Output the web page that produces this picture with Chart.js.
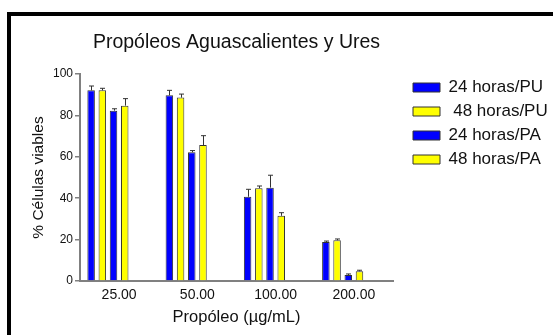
<!DOCTYPE html>
<html>
<head>
<meta charset="utf-8">
<script src="https://cdn.jsdelivr.net/npm/chart.js@4.4.0/dist/chart.umd.min.js"></script>
<style>
  html, body { margin: 0; padding: 0; background: #fff; overflow: hidden; }
  #wrap { position: relative; width: 553px; height: 335px; }
  #marco { position: absolute; left: 7px; top: 12px; width: 600px; height: 400px;
           border-left: 4px solid #000; border-top: 4px solid #000; pointer-events: none; }
</style>
</head>
<body>
<div id="wrap">
  <canvas id="grafico" width="553" height="335"></canvas>
  <div id="marco"></div>
</div>
<script>
// concentraciones de propóleo
const dosis = ['25.00', '50.00', '100.00', '200.00'];

// % células viables (media) y error (solo hacia arriba)
const pu24 = [92.1, 89.7, 40.7, 18.8];
const pu24Err = [2.1, 2.4, 3.6, 0.5];
const pu48 = [92.1, 88.6, 44.8, 19.7];
const pu48Err = [1.0, 1.7, 1.1, 0.6];
const pa24 = [82.3, 62.2, 45.1, 2.9];
const pa24Err = [0.9, 0.8, 6.0, 0.5];
const pa48 = [84.7, 65.7, 31.5, 4.7];
const pa48Err = [3.4, 4.5, 1.5, 0.5];

const yTicks = [0, 20, 40, 60, 80, 100];

const azul = '#0000ff';
const amarillo = '#ffff00';
const borde = '#333333';
const gris = '#808080';
const fuente = "'Liberation Sans', Arial, sans-serif";

// error bars drawn through the y scale
const barrasError = {
  id: 'barrasError',
  afterDatasetsDraw(chart) {
    const ctx = chart.ctx;
    const yScale = chart.scales.y;
    ctx.save();
    ctx.strokeStyle = borde;
    ctx.lineWidth = 1;
    chart.data.datasets.forEach((ds, i) => {
      if (!ds.errores) return;
      const meta = chart.getDatasetMeta(i);
      meta.data.forEach((bar, j) => {
        const top = yScale.getPixelForValue(ds.data[j] + ds.errores[j]);
        const x = Math.round(bar.x) + 0.5;
        ctx.beginPath();
        ctx.moveTo(x, bar.y);
        ctx.lineTo(x, top);
        ctx.moveTo(x - 2.5, top);
        ctx.lineTo(x + 2.5, top);
        ctx.stroke();
      });
    });
    ctx.restore();
  }
};

const serie = (label, data, errores, color) => ({
  label: label,
  data: data,
  errores: errores,
  backgroundColor: color,
  borderColor: borde,
  borderWidth: 1,
});

const vacio = () => ({ label: '', data: dosis.map(() => null) });

const chartData = {
  labels: dosis,
  datasets: [
    serie('24 horas/PU', pu24, pu24Err, azul),
    serie(' 48 horas/PU', pu48, pu48Err, amarillo),
    serie('24 horas/PA', pa24, pa24Err, azul),
    serie('48 horas/PA', pa48, pa48Err, amarillo),
    vacio(),
    vacio(),
  ]
};

const options = {
  responsive: false,
  animation: false,
  layout: { padding: { left: 12, top: 16, right: 0, bottom: 0 } },
  datasets: {
    bar: { categoryPercentage: 0.859, barPercentage: 0.67 }
  },
  plugins: {
    title: {
      display: true,
      text: 'Propóleos Aguascalientes y Ures',
      fullSize: false,
      color: '#111',
      font: { family: fuente, size: 19.5, weight: 'normal' },
      padding: { top: 14.8, bottom: 19.8 }
    },
    legend: {
      position: 'right',
      align: 'start',
      fullSize: true,
      maxWidth: 147,
      title: { display: true, text: '', font: { size: 10 }, padding: { top: 0, bottom: 44 } },
      labels: {
        boxWidth: 27,
        boxHeight: 9,
        padding: 7,
        color: '#111',
        font: { family: fuente, size: 17 },
        filter: (item) => item.datasetIndex < 4
      }
    },
    tooltip: { enabled: false }
  },
  scales: {
    x: {
      grid: { display: false, drawTicks: false },
      border: { display: true, color: gris, width: 2 },
      ticks: { color: '#111', padding: 6, font: { family: fuente, size: 14 } },
      title: {
        display: true,
        text: 'Propóleo (µg/mL)',
        color: '#111',
        font: { family: fuente, size: 16.5 },
        padding: { top: 0, bottom: 7.4 }
      },
      afterFit: (scale) => { scale.height = 54; }
    },
    y: {
      min: 0,
      max: 100,
      afterBuildTicks: (scale) => { scale.ticks = yTicks.map(v => ({ value: v })); },
      grid: { display: true, drawOnChartArea: false, drawTicks: true, tickLength: 5, color: gris, lineWidth: 1.5 },
      border: { display: true, color: gris, width: 2 },
      ticks: { color: '#111', padding: 2, font: { family: fuente, size: 12 } },
      title: {
        display: true,
        text: '% Células viables',
        color: '#111',
        font: { family: fuente, size: 15.5 },
        padding: { top: 17.7, bottom: 0 }
      },
      afterFit: (scale) => { scale.width = 68; }
    },
    espacio: {
      type: 'linear',
      position: 'right',
      grid: { display: false, drawTicks: false },
      border: { display: false },
      ticks: { display: false },
      afterFit: (scale) => { scale.width = 13; }
    }
  }
};

const Grafico = document.getElementById('grafico');
const myChart = new Chart(Grafico, {
  type: 'bar',
  data: chartData,
  options: options,
  plugins: [barrasError],
});
</script>
</body>
</html>
